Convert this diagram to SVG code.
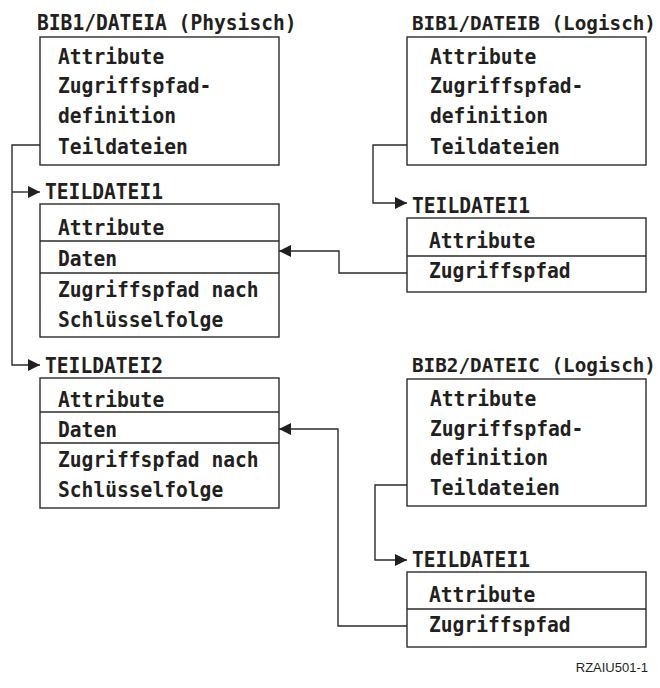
<svg xmlns="http://www.w3.org/2000/svg" width="660" height="688" viewBox="0 0 660 688">
  <style>
    .t { font-family: "DejaVu Sans Mono", "Liberation Mono", monospace; font-weight: bold; font-size: 21px; fill: #231f20; }
    .t.edge { font-size: 19.4px; }
    .box { fill: #ffffff; stroke: #2b2b2b; stroke-width: 1.4; }
    .div { stroke: #2b2b2b; stroke-width: 1.4; }
    .wire { fill: none; stroke: #2b2b2b; stroke-width: 1.4; }
    .fig { font-family: "Liberation Sans", Arial, sans-serif; font-size: 13px; fill: #231f20; }
  </style>
  <defs>
    <marker id="arrow" viewBox="0 0 12 12" refX="12" refY="6" markerWidth="12" markerHeight="12" markerUnits="userSpaceOnUse" orient="auto">
      <path d="M0,0 L12,6 L0,12 Z" fill="#231f20"/>
    </marker>
  </defs>

  <rect width="660" height="688" fill="#ffffff"/>

  <!-- connectors -->
  <g id="connectors">
    <polyline class="wire" points="40,145 12,145 12,365 40,365" marker-end="url(#arrow)"/>
    <polyline class="wire" points="12,192 40,192" marker-end="url(#arrow)"/>
    <polyline class="wire" points="407,145 373,145 373,203 407,203" marker-end="url(#arrow)"/>
    <polyline class="wire" points="407,273 339,273 339,251 279,251" marker-end="url(#arrow)"/>
    <polyline class="wire" points="407,485 375,485 375,560 407,560" marker-end="url(#arrow)"/>
    <polyline class="wire" points="407,626 338,626 338,429 279,429" marker-end="url(#arrow)"/>
  </g>

  <!-- physical file BIB1/DATEIA -->
  <g id="dateia">
    <text class="t" x="37" y="30" textLength="259.6" lengthAdjust="spacingAndGlyphs">BIB1/DATEIA (Physisch)</text>
    <rect class="box" x="40" y="37" width="239" height="128"/>
    <text class="t" x="58" y="64" textLength="106.2" lengthAdjust="spacingAndGlyphs">Attribute</text>
    <text class="t" x="58" y="93" textLength="153.4" lengthAdjust="spacingAndGlyphs">Zugriffspfad-</text>
    <text class="t" x="58" y="123" textLength="118" lengthAdjust="spacingAndGlyphs">definition</text>
    <text class="t" x="58" y="154" textLength="129.8" lengthAdjust="spacingAndGlyphs">Teildateien</text>
  </g>

  <!-- member 1 of DATEIA -->
  <g id="dateia-teil1">
    <text class="t" x="45" y="199" textLength="118" lengthAdjust="spacingAndGlyphs">TEILDATEI1</text>
    <rect class="box" x="40" y="204" width="239" height="133"/>
    <line class="div" x1="40" y1="241" x2="279" y2="241"/>
    <line class="div" x1="40" y1="273" x2="279" y2="273"/>
    <text class="t" x="58" y="235" textLength="106.2" lengthAdjust="spacingAndGlyphs">Attribute</text>
    <text class="t" x="58" y="266" textLength="59" lengthAdjust="spacingAndGlyphs">Daten</text>
    <text class="t" x="58" y="297" textLength="200.6" lengthAdjust="spacingAndGlyphs">Zugriffspfad nach</text>
    <text class="t" x="58" y="327" textLength="165.2" lengthAdjust="spacingAndGlyphs">Schlüsselfolge</text>
  </g>

  <!-- member 2 of DATEIA -->
  <g id="dateia-teil2">
    <text class="t" x="45" y="373" textLength="118" lengthAdjust="spacingAndGlyphs">TEILDATEI2</text>
    <rect class="box" x="40" y="378" width="239" height="130"/>
    <line class="div" x1="40" y1="412" x2="279" y2="412"/>
    <line class="div" x1="40" y1="443" x2="279" y2="443"/>
    <text class="t" x="58" y="407" textLength="106.2" lengthAdjust="spacingAndGlyphs">Attribute</text>
    <text class="t" x="58" y="437" textLength="59" lengthAdjust="spacingAndGlyphs">Daten</text>
    <text class="t" x="58" y="467" textLength="200.6" lengthAdjust="spacingAndGlyphs">Zugriffspfad nach</text>
    <text class="t" x="58" y="497" textLength="165.2" lengthAdjust="spacingAndGlyphs">Schlüsselfolge</text>
  </g>

  <!-- logical file BIB1/DATEIB -->
  <g id="dateib">
    <text class="t edge" x="412" y="30" textLength="244" lengthAdjust="spacingAndGlyphs">BIB1/DATEIB (Logisch)</text>
    <rect class="box" x="407" y="37" width="239" height="128"/>
    <text class="t" x="430" y="64" textLength="106.2" lengthAdjust="spacingAndGlyphs">Attribute</text>
    <text class="t" x="430" y="93" textLength="153.4" lengthAdjust="spacingAndGlyphs">Zugriffspfad-</text>
    <text class="t" x="430" y="123" textLength="118" lengthAdjust="spacingAndGlyphs">definition</text>
    <text class="t" x="430" y="154" textLength="129.8" lengthAdjust="spacingAndGlyphs">Teildateien</text>
  </g>

  <!-- member of DATEIB -->
  <g id="dateib-teil1">
    <text class="t" x="412" y="213" textLength="118" lengthAdjust="spacingAndGlyphs">TEILDATEI1</text>
    <rect class="box" x="407" y="218" width="239" height="74"/>
    <line class="div" x1="407" y1="256" x2="646" y2="256"/>
    <text class="t" x="429" y="248" textLength="106.2" lengthAdjust="spacingAndGlyphs">Attribute</text>
    <text class="t" x="429" y="278" textLength="141.6" lengthAdjust="spacingAndGlyphs">Zugriffspfad</text>
  </g>

  <!-- logical file BIB2/DATEIC -->
  <g id="dateic">
    <text class="t edge" x="412" y="372" textLength="244" lengthAdjust="spacingAndGlyphs">BIB2/DATEIC (Logisch)</text>
    <rect class="box" x="407" y="379" width="239" height="127"/>
    <text class="t" x="430" y="406" textLength="106.2" lengthAdjust="spacingAndGlyphs">Attribute</text>
    <text class="t" x="430" y="436" textLength="153.4" lengthAdjust="spacingAndGlyphs">Zugriffspfad-</text>
    <text class="t" x="430" y="465" textLength="118" lengthAdjust="spacingAndGlyphs">definition</text>
    <text class="t" x="430" y="495" textLength="129.8" lengthAdjust="spacingAndGlyphs">Teildateien</text>
  </g>

  <!-- member of DATEIC -->
  <g id="dateic-teil1">
    <text class="t" x="412" y="567" textLength="118" lengthAdjust="spacingAndGlyphs">TEILDATEI1</text>
    <rect class="box" x="407" y="572" width="239" height="75"/>
    <line class="div" x1="407" y1="609" x2="646" y2="609"/>
    <text class="t" x="429" y="602" textLength="106.2" lengthAdjust="spacingAndGlyphs">Attribute</text>
    <text class="t" x="429" y="632" textLength="141.6" lengthAdjust="spacingAndGlyphs">Zugriffspfad</text>
  </g>

  <text class="fig" x="648" y="672" text-anchor="end">RZAIU501-1</text>
</svg>
